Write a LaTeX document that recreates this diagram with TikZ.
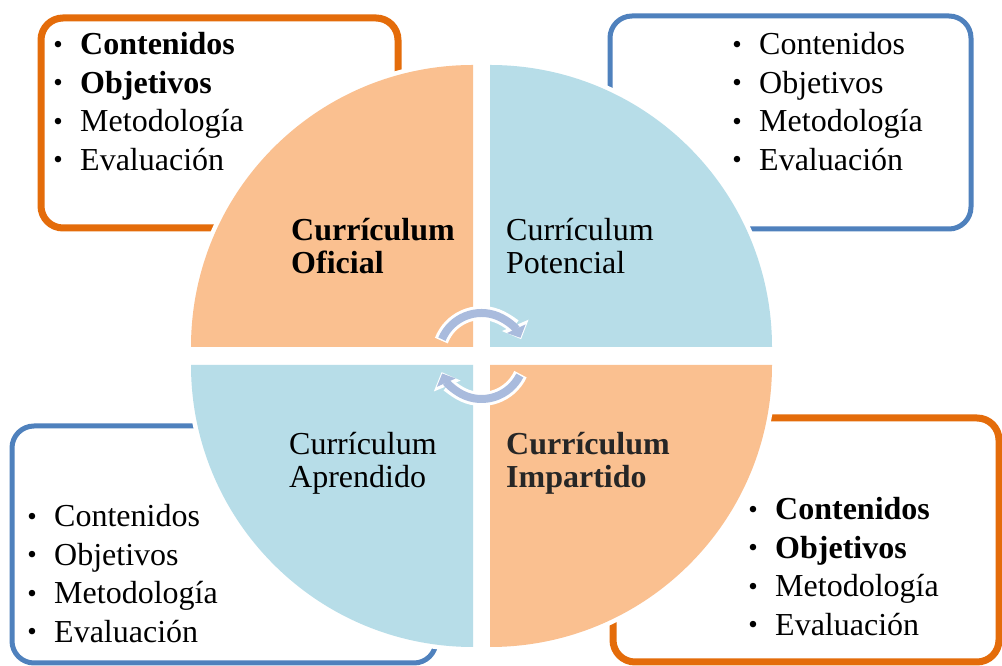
\documentclass[tikz,border=0pt]{standalone}
\usepackage{fontspec}
\setmainfont{Liberation Serif}
\usetikzlibrary{arrows.meta}
\definecolor{qorange}{HTML}{FAC090}
\definecolor{qblue}{HTML}{B7DDE8}
\definecolor{borange}{HTML}{E46C0A}
\definecolor{bblue}{HTML}{4F81BD}
\definecolor{arrblue}{HTML}{A9BBDD}
\definecolor{dgray}{HTML}{262626}
\newcommand\itm{\makebox[27.6pt][l]{\hspace{0.8pt}\raisebox{1.8pt}{\fontsize{27}{27}\selectfont •}}}
\begin{document}
\begin{tikzpicture}[x=1pt,y=1pt,
  boxbase/.style={fill=white, rounded corners=22pt},
  obox/.style={boxbase, draw=borange, line width=7pt},
  bbox/.style={boxbase, draw=bblue, line width=5pt},
  halo/.style={draw=white, line width=9pt, line join=round},
  listtext/.style={anchor=base west, inner sep=0pt, font=\fontsize{32}{38.5}\selectfont},
  lbl/.style={anchor=base west, inner sep=0pt, font=\fontsize{32}{32.5}\selectfont}]
\fill[white] (0,0) rectangle (1002,666);
\useasboundingbox (0,0) rectangle (1002,666);
% boxes
\draw[obox] (41,438) rectangle (398,648);
\draw[bbox] (610,437) rectangle (971,650);
\draw[bbox] (12,3) rectangle (436,240);
\draw[obox] (613,4) rectangle (999,248);
% halos of quadrants
\draw[halo] (473,319) -- (191,319) arc[start angle=180,end angle=90,radius=282] -- cycle;
\draw[halo] (490,319) -- (490,601) arc[start angle=90,end angle=0,radius=282] -- cycle;
\draw[halo] (490,301) -- (772,301) arc[start angle=0,end angle=-90,radius=282] -- cycle;
\draw[halo] (473,301) -- (473,19) arc[start angle=270,end angle=180,radius=282] -- cycle;
% quadrants
\fill[qorange] (473,319) -- (191,319) arc[start angle=180,end angle=90,radius=282] -- cycle;
\fill[qblue] (490,319) -- (490,601) arc[start angle=90,end angle=0,radius=282] -- cycle;
\fill[qorange] (490,301) -- (772,301) arc[start angle=0,end angle=-90,radius=282] -- cycle;
\fill[qblue] (473,301) -- (473,19) arc[start angle=270,end angle=180,radius=282] -- cycle;
% circular arrows
\coordinate (ctr) at (481.5,310);
\draw[white, line width=14pt, -{Triangle[length=15pt,width=28pt]}] ([shift={(159:43)}]ctr) arc[start angle=159,end angle=23,radius=43];
\draw[arrblue, line width=8pt, -{Triangle[length=10pt,width=20pt]}] ([shift={(157:43)}]ctr) arc[start angle=157,end angle=25,radius=43];
\draw[white, line width=14pt, -{Triangle[length=15pt,width=28pt]}] ([shift={(-25:43)}]ctr) arc[start angle=-25,end angle=-158,radius=43];
\draw[arrblue, line width=8pt, -{Triangle[length=10pt,width=20pt]}] ([shift={(-27:43)}]ctr) arc[start angle=-27,end angle=-156,radius=43];
% quadrant labels
\node[lbl] (oficial) at (291,425) {\begin{tabular}[t]{@{}l@{}}\textbf{Currículum}\\\textbf{Oficial}\end{tabular}};
\node[lbl] (potencial) at (506,425) {\begin{tabular}[t]{@{}l@{}}Currículum\\Potencial\end{tabular}};
\node[lbl] (aprendido) at (289,211) {\begin{tabular}[t]{@{}l@{}}Currículum\\Aprendido\end{tabular}};
\node[lbl, text=dgray] (impartido) at (506,211) {\begin{tabular}[t]{@{}l@{}}\textbf{Currículum}\\\textbf{Impartido}\end{tabular}};
% lists
\node[listtext] (listTL) at (52.4,611) {\begin{tabular}[t]{@{}l@{}}\itm\textbf{Contenidos}\\\itm\textbf{Objetivos}\\\itm Metodología\\\itm Evaluación\end{tabular}};
\node[listtext] (listTR) at (731.4,611) {\begin{tabular}[t]{@{}l@{}}\itm Contenidos\\\itm Objetivos\\\itm Metodología\\\itm Evaluación\end{tabular}};
\node[listtext] (listBL) at (26.4,139) {\begin{tabular}[t]{@{}l@{}}\itm Contenidos\\\itm Objetivos\\\itm Metodología\\\itm Evaluación\end{tabular}};
\node[listtext] (listBR) at (747.4,146) {\begin{tabular}[t]{@{}l@{}}\itm\textbf{Contenidos}\\\itm\textbf{Objetivos}\\\itm Metodología\\\itm Evaluación\end{tabular}};
\end{tikzpicture}
\end{document}
